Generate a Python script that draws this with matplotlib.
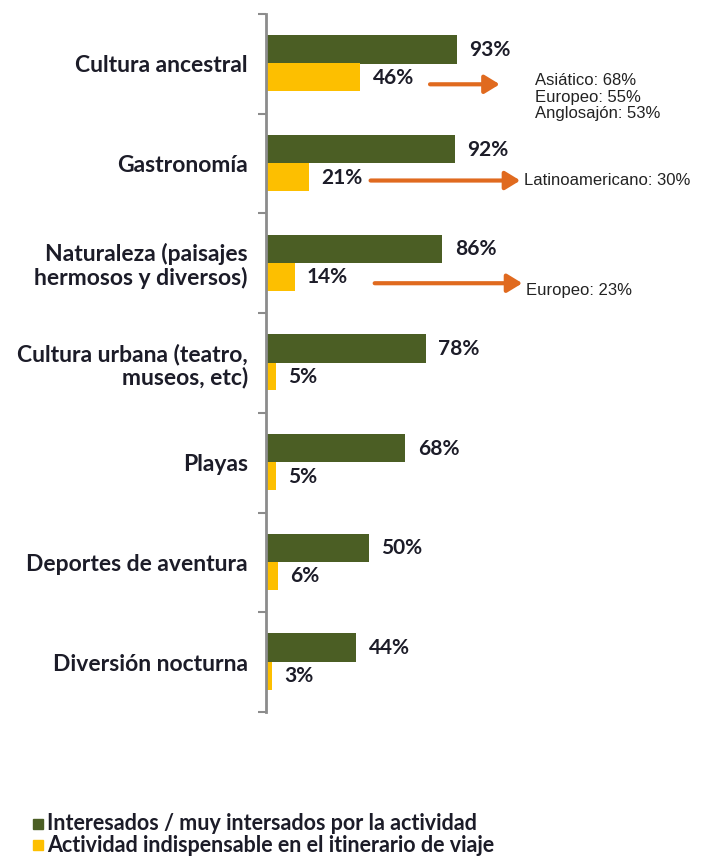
import matplotlib.pyplot as plt
from matplotlib.patches import Rectangle

categorias = ["Cultura ancestral", "Gastronomía", "Naturaleza (paisajes\nhermosos y diversos)",
              "Cultura urbana (teatro,\nmuseos, etc)", "Playas", "Deportes de aventura",
              "Diversión nocturna"]
interesados = [93, 92, 86, 78, 68, 50, 44]
indispensable = [46, 21, 14, 5, 5, 6, 3]

# notas por origen para algunas actividades: (fila, texto)
notas = [
    (0, "Asiático: 68%\nEuropeo: 55%\nAnglosajón: 53%"),
    (1, "Latinoamericano: 30%"),
    (2, "Europeo: 23%"),
]
leyenda = ["Interesados / muy intersados por la actividad",
           "Actividad indispensable en el itinerario de viaje"]

VERDE = "#4b5e24"
AMARILLO = "#fdbf00"
NARANJA = "#e06a1f"
TEXTO = "#1c1c28"
fuente = ["Lato", "DejaVu Sans"]

fig = plt.figure(figsize=(7.06, 8.61), dpi=100)
ax = fig.add_axes([266 / 706, 149 / 861, 440 / 706, 698 / 861])

y = list(range(len(categorias)))
ax.barh([i - 0.145 for i in y], interesados, height=0.285, color=VERDE)
ax.barh([i + 0.135 for i in y], indispensable, height=0.28, color=AMARILLO)

for i in y:
    ax.text(interesados[i] + 6, i - 0.14, f"{interesados[i]}%", va="center", ha="left",
            fontsize=15, fontweight="bold", color=TEXTO, family=fuente)
    ax.text(indispensable[i] + 6, i + 0.14, f"{indispensable[i]}%", va="center", ha="left",
            fontsize=15, fontweight="bold", color=TEXTO, family=fuente)

# flechas desde la etiqueta amarilla hasta la nota
flechas = {0: (80, 114, 0.205), 1: (51, 124, 0.17), 2: (53, 125, 0.2)}
for fila, texto in notas:
    x0, x1, dy = flechas[fila]
    ax.annotate("", xy=(x1, fila + dy), xytext=(x0, fila + dy),
                arrowprops=dict(arrowstyle="-|>,head_length=0.9,head_width=0.55",
                                color=NARANJA, lw=3, shrinkA=0, shrinkB=0))
nota_pos = {0: (131, 0.09, "top"), 1: (126, 0.17, "center"), 2: (127, 0.27, "center")}
for fila, texto in notas:
    nx, ny, va = nota_pos[fila]
    ax.text(nx, fila + ny, texto, va=va, ha="left", fontsize=12, color="#222222",
            family=["Liberation Sans", "DejaVu Sans"], linespacing=1.15)

ax.set_xlim(0, 214.6)
ax.set_ylim(len(categorias) - 0.5, -0.5)
ax.set_yticks([i - 0.5 for i in range(len(categorias) + 1)])
ax.set_yticklabels([])
ax.set_yticks(y, minor=True)
ax.set_yticklabels(categorias, minor=True, fontsize=16.5, fontweight="bold", color=TEXTO,
                   family=fuente, linespacing=1.1)
ax.tick_params(axis="y", which="major", length=6, width=1.5, color="#8c8c8c", direction="out")
ax.tick_params(axis="y", which="minor", length=0, pad=13)
ax.set_xticks([])
for lado in ["top", "right", "bottom"]:
    ax.spines[lado].set_visible(False)
ax.spines["left"].set_color("#8c8c8c")
ax.spines["left"].set_linewidth(2)

# leyenda al pie: cuadrados y textos en coordenadas de figura
for k, (texto, color) in enumerate(zip(leyenda, [VERDE, AMARILLO])):
    yc = 1 - (824 + 21 * k) / 861
    fig.patches.append(Rectangle((33 / 706, yc - 5 / 861), 10 / 706, 10 / 861,
                                 transform=fig.transFigure, color=color))
    fig.text(47 / 706, yc, texto, va="center", ha="left", fontsize=15.5, fontweight="bold",
             color=TEXTO, family=fuente)

fig.savefig("out.png", dpi=100, facecolor="white")
